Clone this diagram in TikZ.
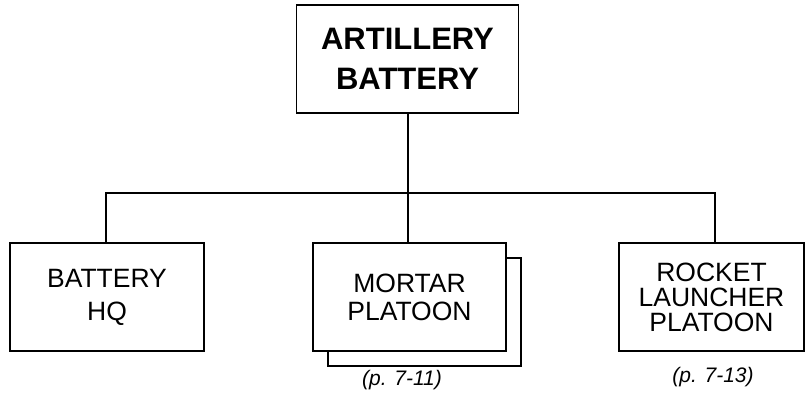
\documentclass[tikz,border=0pt]{standalone}
\usepackage{fontspec}
\setmainfont{Liberation Sans}
\begin{document}
\begin{tikzpicture}[x=1pt,y=-1pt,
  unitbox/.style={draw, line width=1.8pt, fill=white, align=center, inner sep=0pt},
  link/.style={line width=1.8pt},
  pagenote/.style={font=\fontsize{21}{24}\selectfont\itshape, inner sep=0pt}]
\useasboundingbox (0,0) rectangle (807,401);
% top box
\node[unitbox, minimum width=222pt, minimum height=108pt,
  font=\fontsize{31}{40}\selectfont\bfseries] (top) at (407.5,59) {ARTILLERY\\BATTERY};
% lower boxes
\node[unitbox, minimum width=194pt, minimum height=108pt,
  font=\fontsize{26.5}{33}\selectfont] (hq) at (107,297) {BATTERY\\HQ};
\node[unitbox, minimum width=193pt, minimum height=108pt] (mts) at (424.5,312) {};
\node[unitbox, minimum width=193pt, minimum height=108pt,
  font=\fontsize{26.5}{28}\selectfont] (mt) at (409.5,297) {MORTAR\\PLATOON};
\node[unitbox, minimum width=185pt, minimum height=108pt,
  font=\fontsize{26.5}{25}\selectfont] (rk) at (711.5,297) {ROCKET\\LAUNCHER\\PLATOON};
% page notes
\node[pagenote] (n1) at (402,380) {(p. 7-11)};
\node[pagenote] (n2) at (713,377) {(p. 7-13)};
% connectors
\coordinate (j) at (408,193);
\draw[link] (top.south -| j) -- (j);
\draw[link] (j) -- (mt.north -| j);
\draw[link] ([xshift=-1pt]hq.north) |- (j) -| ([xshift=3.5pt]rk.north);
\end{tikzpicture}
\end{document}
